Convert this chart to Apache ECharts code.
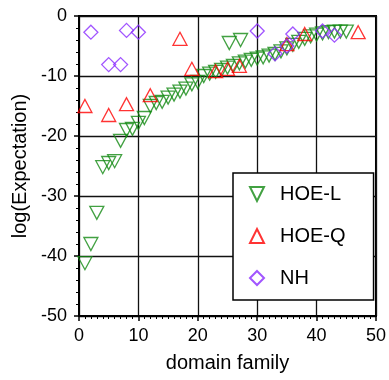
<!DOCTYPE html>
<html>
<head>
<meta charset="utf-8">
<script src="https://cdn.jsdelivr.net/npm/echarts@6/dist/echarts.min.js"></script>
<style>html,body{margin:0;padding:0;background:#fff}#c{width:389px;height:380px}</style>
</head>
<body>
<div id="c"></div>
<script>
// HOE-L (down triangles)
const hoeLX = [1,2,3,4,5,6,7,8,9,10,11,12,13,14,15,16,17,18,19,20,21,22,23,24,25,26,27,28,29,30,31,32,33,34,35,36,37,38,39,40,41,42,43,44,45,25.3,27.2];
const hoeLY = [-41.2,-38,-32.8,-25.2,-24.5,-24.2,-20.8,-19,-18.8,-17.8,-17,-15,-14.5,-14.3,-13.6,-13.1,-12.6,-12.1,-11.4,-11,-10,-9.6,-9.3,-9,-8.6,-8.3,-7.9,-7.6,-7.3,-7.1,-6.9,-6.6,-6.3,-5.9,-5.4,-4.8,-4.3,-3.8,-3.4,-3.1,-2.9,-2.7,-2.6,-2.6,-2.6,-4.5,-4];
// HOE-Q (up triangles)
const hoeQX = [1,5,8,12,17,19,23,25,27,35,38,47];
const hoeQY = [-15,-16.5,-14.7,-13.2,-3.8,-8.8,-9.2,-8.8,-8.3,-4.7,-3,-2.7];
// NH (diamonds)
const nhX = [2,5,7,8,10,30,33,35,36,41,43];
const nhY = [-2.7,-8.1,-8.1,-2.4,-2.7,-2.5,-6.3,-5,-3,-2.5,-3.2];
const xTicks = [0,10,20,30,40,50];
const yTicks = [0,-10,-20,-30,-40,-50];

const FONT = 'Liberation Sans, Arial, Helvetica, sans-serif';
const zip = (xs, ys) => xs.map((x, i) => [x, ys[i]]);

const chart = echarts.init(document.getElementById('c'), null, {renderer: 'canvas'});
const axisCommon = {
  axisLine: {show: true, onZero: false, lineStyle: {color: '#000', width: 2}},
  axisTick: {show: true, inside: false, length: 5, lineStyle: {color: '#000', width: 1.5}},
  minorTick: {show: true, length: 3, lineStyle: {color: '#000', width: 1}},
  splitLine: {show: true, lineStyle: {color: '#111', width: 1.3}},
  axisLabel: {color: '#000', fontSize: 18, fontFamily: FONT},
  nameTextStyle: {color: '#000', fontSize: 20, fontFamily: FONT},
  nameLocation: 'middle'
};
chart.setOption({
  animation: false,
  backgroundColor: '#fff',
  grid: {left: 79, right: 11, top: 16, bottom: 64, show: true, borderColor: '#000', borderWidth: 2, backgroundColor: 'transparent'},
  xAxis: Object.assign({}, axisCommon, {
    type: 'value', min: xTicks[0], max: xTicks[xTicks.length-1], interval: 10,
    name: 'domain family', nameGap: 37,
    minorTick: Object.assign({}, axisCommon.minorTick, {splitNumber: 10}),
    axisLabel: Object.assign({}, axisCommon.axisLabel, {margin: 11})
  }),
  yAxis: Object.assign({}, axisCommon, {
    type: 'value', min: yTicks[yTicks.length-1], max: yTicks[0], interval: 10,
    name: 'log(Expectation)', nameGap: 46,
    minorTick: Object.assign({}, axisCommon.minorTick, {splitNumber: 5}),
    axisLabel: Object.assign({}, axisCommon.axisLabel, {margin: 12})
  }),
  legend: {
    left: 233, top: 173, orient: 'vertical',
    itemWidth: 14, itemHeight: 14, itemGap: 22,
    padding: [11, 28, 12, 16],
    borderColor: '#000', borderWidth: 1.5, backgroundColor: '#fff',
    textStyle: {fontSize: 20, fontFamily: FONT, color: '#000', padding: [0, 0, 0, 11]},
    data: ['HOE-L', 'HOE-Q', 'NH']
  },
  series: [
    {name: 'HOE-L', type: 'scatter', data: zip(hoeLX, hoeLY),
     symbol: 'path://M0,0L10,0L5,10Z', symbolSize: [14, 13],
     itemStyle: {color: 'rgba(0,0,0,0)', borderColor: '#138a13', borderWidth: 1.3}},
    {name: 'HOE-Q', type: 'scatter', data: zip(hoeQX, hoeQY),
     symbol: 'path://M5,0L10,10L0,10Z', symbolSize: [14, 13],
     itemStyle: {color: 'rgba(0,0,0,0)', borderColor: '#ff0000', borderWidth: 1.3}},
    {name: 'NH', type: 'scatter', data: zip(nhX, nhY),
     symbol: 'diamond', symbolSize: [14, 14],
     itemStyle: {color: 'rgba(0,0,0,0)', borderColor: '#8a2bff', borderWidth: 1.3}}
  ]
});
</script>
</body>
</html>
